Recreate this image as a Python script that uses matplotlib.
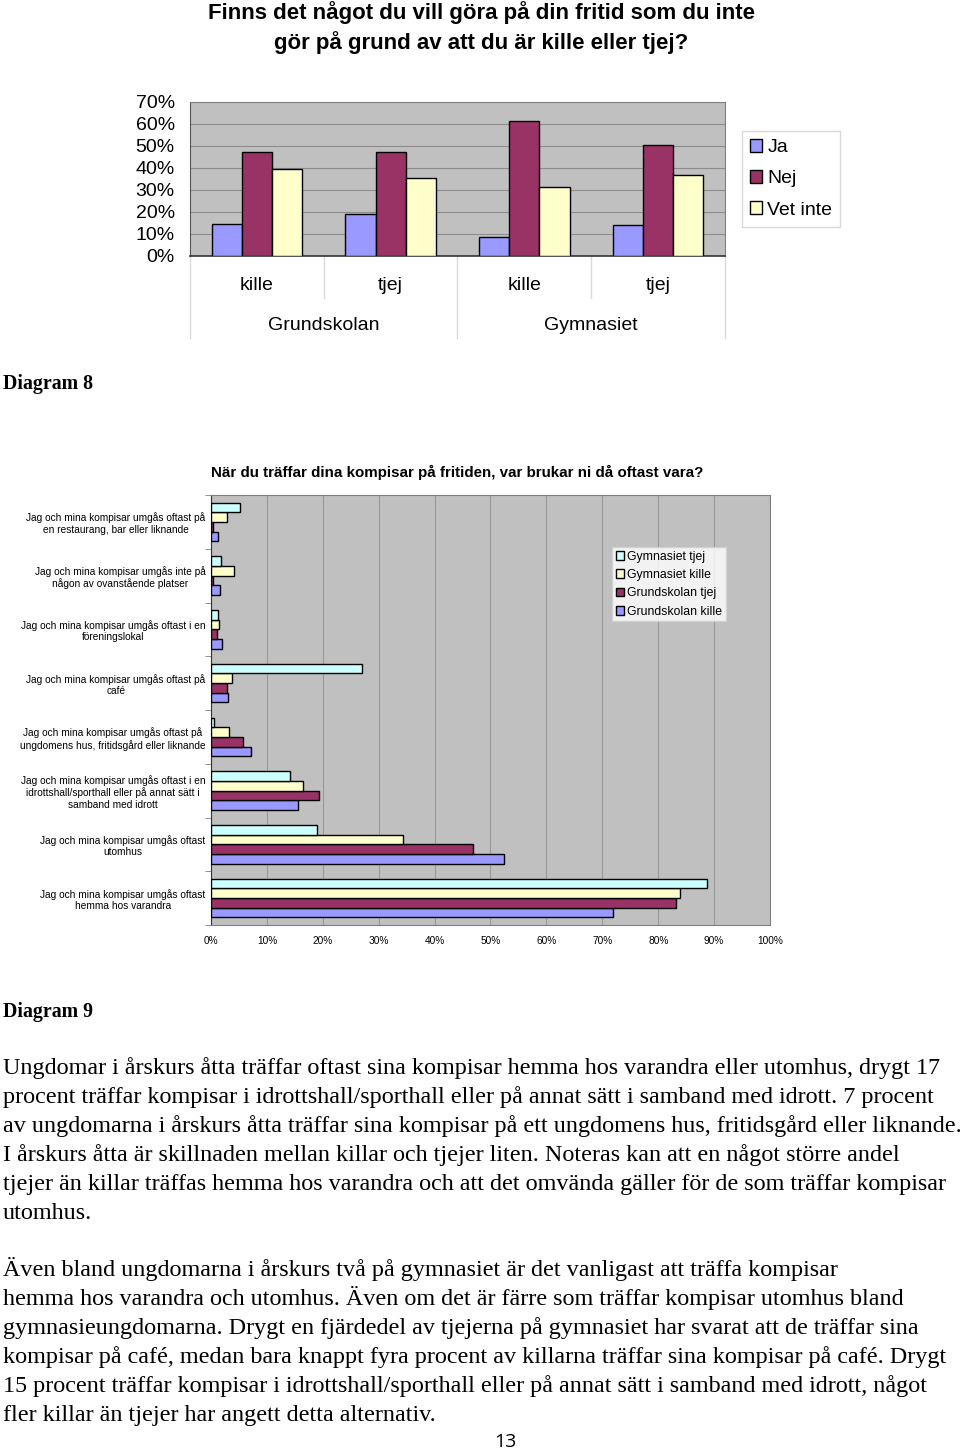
import matplotlib.pyplot as plt
import matplotlib.transforms as mtransforms
import numpy as np

W, H = 960, 1452

# ---- Diagram 8 data ----
cats8 = ['kille', 'tjej', 'kille', 'tjej']
groups8 = ['Grundskolan', 'Gymnasiet']
ja = [0.146, 0.193, 0.085, 0.140]
nej = [0.472, 0.472, 0.615, 0.505]
vet_inte = [0.394, 0.353, 0.312, 0.367]
yticks8 = ['0%', '10%', '20%', '30%', '40%', '50%', '60%', '70%']

# ---- Diagram 9 data (top to bottom as shown) ----
places = [
    'Jag och mina kompisar umgås oftast på\nen restaurang, bar eller liknande',
    'Jag och mina kompisar umgås inte på\nnågon av ovanstående platser',
    'Jag och mina kompisar umgås oftast i en\nföreningslokal',
    'Jag och mina kompisar umgås oftast på\ncafé',
    'Jag och mina kompisar umgås oftast på\nungdomens hus, fritidsgård eller liknande',
    'Jag och mina kompisar umgås oftast i en\nidrottshall/sporthall eller på annat sätt i\nsamband med idrott',
    'Jag och mina kompisar umgås oftast\nutomhus',
    'Jag och mina kompisar umgås oftast\nhemma hos varandra',
]
grund_kille = [0.012, 0.016, 0.020, 0.031, 0.071, 0.156, 0.524, 0.720]
grund_tjej = [0.004, 0.004, 0.011, 0.028, 0.058, 0.193, 0.468, 0.832]
gymn_kille = [0.028, 0.041, 0.015, 0.038, 0.032, 0.165, 0.343, 0.839]
gymn_tjej = [0.052, 0.018, 0.012, 0.270, 0.006, 0.141, 0.190, 0.887]
xticks9 = ['0%', '10%', '20%', '30%', '40%', '50%', '60%', '70%', '80%', '90%', '100%']

para1 = [
    'Ungdomar i årskurs åtta träffar oftast sina kompisar hemma hos varandra eller utomhus, drygt 17',
    'procent träffar kompisar i idrottshall/sporthall eller på annat sätt i samband med idrott. 7 procent',
    'av ungdomarna i årskurs åtta träffar sina kompisar på ett ungdomens hus, fritidsgård eller liknande.',
    'I årskurs åtta är skillnaden mellan killar och tjejer liten. Noteras kan att en något större andel',
    'tjejer än killar träffas hemma hos varandra och att det omvända gäller för de som träffar kompisar',
    'utomhus.',
]
para2 = [
    'Även bland ungdomarna i årskurs två på gymnasiet är det vanligast att träffa kompisar',
    'hemma hos varandra och utomhus. Även om det är färre som träffar kompisar utomhus bland',
    'gymnasieungdomarna. Drygt en fjärdedel av tjejerna på gymnasiet har svarat att de träffar sina',
    'kompisar på café, medan bara knappt fyra procent av killarna träffar sina kompisar på café. Drygt',
    '15 procent träffar kompisar i idrottshall/sporthall eller på annat sätt i samband med idrott, något',
    'fler killar än tjejer har angett detta alternativ.',
]

C_BLUE = '#9999ff'
C_PLUM = '#993366'
C_CREAM = '#ffffcc'
C_CYAN = '#ccffff'
PLOT_BG = '#c0c0c0'

plt.rcParams['font.family'] = ['Liberation Sans', 'DejaVu Sans']

fig = plt.figure(figsize=(W / 100, H / 100), dpi=100)


def px_axes(x0, y0, x1, y1):
    return fig.add_axes([x0 / W, 1 - y1 / H, (x1 - x0) / W, (y1 - y0) / H])


def fx(x):
    return x / W


def fy(y):
    return 1 - y / H


# ================= Diagram 8 =================
fig.text(fx(481), fy(13), 'Finns det något du vill göra på din fritid som du inte',
         ha='center', va='center', fontsize=16, fontweight='bold')
fig.text(fx(481), fy(43), 'gör på grund av att du är kille eller tjej?',
         ha='center', va='center', fontsize=16, fontweight='bold')

ax1 = px_axes(190, 102, 725, 256)
ax1.set_facecolor(PLOT_BG)
x = np.arange(len(cats8))
bw = 0.225
ax1.bar(x - bw, ja, bw, color=C_BLUE, edgecolor='black', linewidth=1, label='Ja', zorder=3)
ax1.bar(x, nej, bw, color=C_PLUM, edgecolor='black', linewidth=1, label='Nej', zorder=3)
ax1.bar(x + bw, vet_inte, bw, color=C_CREAM, edgecolor='black', linewidth=1, label='Vet inte', zorder=3)
ax1.set_xlim(-0.5, 3.5)
ax1.set_ylim(0, 0.7)
ax1.set_yticks(np.arange(0, 0.71, 0.1))
ax1.set_yticklabels(yticks8, fontsize=14)
ax1.tick_params(axis='y', length=0, pad=11)
ax1.set_xticks([])
ax1.yaxis.grid(True, color='#8c8c8c', linewidth=0.8, zorder=0)
ax1.set_axisbelow(True)
for s in ['top', 'right']:
    ax1.spines[s].set_color('#808080')
ax1.spines['left'].set_color('#555555')
ax1.spines['bottom'].set_color('#333333')
ax1.spines['bottom'].set_linewidth(1.2)

trans = mtransforms.blended_transform_factory(ax1.transData, ax1.transAxes)
for i, c in enumerate(cats8):
    ax1.text(i, -0.19, c, transform=trans, ha='center', va='center', fontsize=14)
for g, name in enumerate(groups8):
    ax1.text(g * 2 + 0.5, -0.45, name, transform=trans, ha='center', va='center', fontsize=14)
for xb, depth in [(-0.5, -0.535), (0.5, -0.27), (1.5, -0.535), (2.5, -0.27), (3.5, -0.535)]:
    ax1.plot([xb, xb], [0, depth], transform=trans, color='#d9d9d9', linewidth=1, clip_on=False)

leg1 = ax1.legend(loc='upper left', bbox_to_anchor=(fx(742), fy(131)),
                  bbox_transform=fig.transFigure, fontsize=14, frameon=True,
                  fancybox=False, edgecolor='#d0d0d0', handlelength=0.65, handleheight=0.65,
                  handletextpad=0.25, labelspacing=0.72, borderpad=0.4, borderaxespad=0)
leg1.get_frame().set_linewidth(1)

fig.text(fx(3), fy(384), 'Diagram 8', ha='left', va='center', fontsize=14.3,
         fontweight='bold', family='Liberation Serif')

# ================= Diagram 9 =================
fig.text(fx(211), fy(472), 'När du träffar dina kompisar på fritiden, var brukar ni då oftast vara?',
         ha='left', va='center', fontsize=10.9, fontweight='bold')

ax2 = px_axes(211, 495, 770, 925)
ax2.set_facecolor(PLOT_BG)
n = len(places)
ypos = np.arange(n)[::-1]  # first place at top
bh = 0.18
ax2.barh(ypos - 1.5 * bh, grund_kille, bh, color=C_BLUE, edgecolor='black', linewidth=1,
         label='Grundskolan kille', zorder=3)
ax2.barh(ypos - 0.5 * bh, grund_tjej, bh, color=C_PLUM, edgecolor='black', linewidth=1,
         label='Grundskolan tjej', zorder=3)
ax2.barh(ypos + 0.5 * bh, gymn_kille, bh, color=C_CREAM, edgecolor='black', linewidth=1,
         label='Gymnasiet kille', zorder=3)
ax2.barh(ypos + 1.5 * bh, gymn_tjej, bh, color=C_CYAN, edgecolor='black', linewidth=1,
         label='Gymnasiet tjej', zorder=3)
ax2.set_xlim(0, 1)
ax2.set_ylim(-0.5, n - 0.5)
ax2.set_xticks(np.arange(0, 1.01, 0.1))
ax2.set_xticklabels(xticks9, fontsize=7.3)
ax2.tick_params(axis='x', length=0, pad=8)
ax2.set_yticks(ypos)
ax2.set_yticklabels(places, fontsize=7.3)
for t in ax2.get_yticklabels():
    t.set_multialignment('center')
ax2.tick_params(axis='y', length=0, pad=4)
ax2.set_yticks(np.arange(-0.5, n, 1), minor=True)
ax2.tick_params(axis='y', which='minor', length=4, color='#808080')
ax2.xaxis.grid(True, color='#999999', linewidth=0.8, zorder=0)
ax2.set_axisbelow(True)
for s in ax2.spines.values():
    s.set_color('#808080')
ax2.spines['left'].set_color('#333333')

h, l = ax2.get_legend_handles_labels()
leg2 = ax2.legend(h[::-1], l[::-1], loc='upper left', bbox_to_anchor=(fx(612), fy(547)),
                  bbox_transform=fig.transFigure, fontsize=8.8, frameon=True, fancybox=False,
                  edgecolor='#d0d0d0', handlelength=0.7, handleheight=0.7, handletextpad=0.25,
                  labelspacing=0.52, borderpad=0.3, borderaxespad=0)
leg2.get_frame().set_linewidth(1)

fig.text(fx(3), fy(1012), 'Diagram 9', ha='left', va='center', fontsize=14.3,
         fontweight='bold', family='Liberation Serif')

# ================= Body text =================
for i, line in enumerate(para1):
    fig.text(fx(3), fy(1074 + 29 * i), line, ha='left', va='baseline', fontsize=17.4,
             family='Liberation Serif')
for i, line in enumerate(para2):
    fig.text(fx(3), fy(1276 + 29 * i), line, ha='left', va='baseline', fontsize=17.4,
             family='Liberation Serif')

fig.text(fx(505), fy(1442), '13', ha='center', va='center', fontsize=14, family='Open Sans')

fig.savefig('out.png', dpi=100)
